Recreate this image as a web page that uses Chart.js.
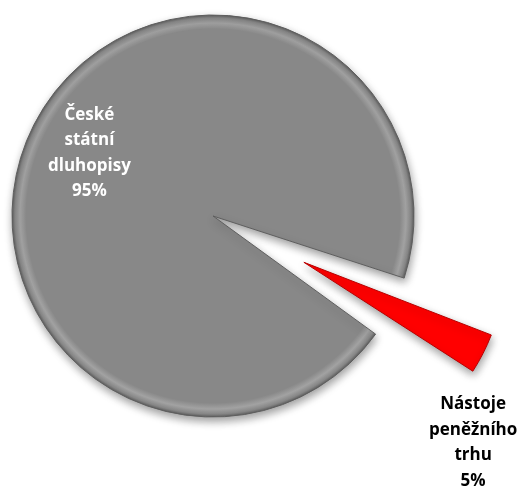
<!DOCTYPE html>
<html>
<head>
<meta charset="utf-8">
<script src="https://cdn.jsdelivr.net/npm/chart.js@4"></script>
<style>
  html, body { margin: 0; padding: 0; background: #fff; }
  #wrap { width: 531px; height: 490px; }
</style>
</head>
<body>
<div id="wrap"><canvas id="myChart" width="531" height="490"></canvas></div>
<script>
const labels = ["České\nstátní\ndluhopisy", "Nástoje\npeněžního\ntrhu"];
const shares = [95, 5];
const colors = ["#888888", "#ff0000"];
const rims = ["#5e5e5e", "#b80000"];
const highlights = ["#a2a2a2", "#ff4a4a"];
const textColors = ["#ffffff", "#000000"];

const ROTATION = 126;
const RADIUS = 201;
const PULL = 102; // how far the small slice is pulled out, px

// label placement: angle shift (deg) from slice middle, distance in radii
const labelPlace = [
  { turn: 0, dist: 0.69 },
  { turn: 19.8, dist: 1.23 },
];

const total = shares.reduce((a, b) => a + b, 0);
const pulls = shares.map((v, i) => (i === 1 ? PULL : 0));

// middle angle of each slice, radians, canvas orientation
const midAngle = (i) => {
  let before = 0;
  for (let k = 0; k < i; k++) before += shares[k];
  const start = (ROTATION - 90) * Math.PI / 180;
  return start + ((before + shares[i] / 2) / total) * Math.PI * 2;
};

// bevel-like fill: flat colour, lighter strip and darker rim at the arc
const bevelFill = (context) => {
  const i = context.dataIndex;
  const chart = context.chart;
  const area = chart.chartArea;
  if (!area) return colors[i];
  const a = midAngle(i);
  const cx = (area.left + area.right) / 2 + Math.cos(a) * pulls[i];
  const cy = (area.top + area.bottom) / 2 + Math.sin(a) * pulls[i];
  const g = chart.ctx.createRadialGradient(cx, cy, 0, cx, cy, RADIUS);
  g.addColorStop(0, colors[i]);
  g.addColorStop(0.93, colors[i]);
  g.addColorStop(0.96, highlights[i]);
  g.addColorStop(0.985, colors[i]);
  g.addColorStop(1, rims[i]);
  return g;
};

// ArcElement grows a pulled slice by offset/4 * (1 - sin(circumference));
// take that back off so every slice keeps the same radius
const keepRadius = {
  id: "keepRadius",
  afterDatasetUpdate(chart, args) {
    args.meta.data.forEach((arc) => {
      const off = (arc.options.offset || 0) / 4;
      const fix = 1 - Math.sin(Math.min(Math.PI, arc.circumference || 0));
      arc.outerRadius = RADIUS - off * fix;
    });
  },
};

const shadowPlugin = {
  id: "shadow",
  beforeDatasetsDraw(chart) {
    const c = chart.ctx;
    c.save();
    c.shadowColor = "rgba(0,0,0,0.38)";
    c.shadowBlur = 9;
    c.shadowOffsetX = 1;
    c.shadowOffsetY = 4;
  },
  afterDatasetsDraw(chart) {
    chart.ctx.restore();
  },
};

const sliceLabels = {
  id: "sliceLabels",
  afterDraw(chart) {
    const c = chart.ctx;
    const meta = chart.getDatasetMeta(0);
    meta.data.forEach((arc, i) => {
      const { x, y, startAngle, endAngle } = arc.getProps(
        ["x", "y", "startAngle", "endAngle"],
        true
      );
      const mid = (startAngle + endAngle) / 2;
      const off = (arc.options.offset || 0) / 4;
      const vx = x + Math.cos(mid) * off;
      const vy = y + Math.sin(mid) * off;
      const p = labelPlace[i];
      const ang = mid + (p.turn * Math.PI) / 180;
      const lx = vx + Math.cos(ang) * RADIUS * p.dist;
      const ly = vy + Math.sin(ang) * RADIUS * p.dist;
      const pct = Math.round((shares[i] / total) * 100) + "%";
      const lines = labels[i].split("\n").concat(pct);
      const lh = 25.5;
      c.save();
      c.font = "bold 17px 'Open Sans'";
      c.fillStyle = textColors[i];
      c.textAlign = "center";
      c.textBaseline = "middle";
      lines.forEach((t, k) => {
        c.fillText(t, lx, ly + (k - (lines.length - 1) / 2) * lh);
      });
      c.restore();
    });
  },
};

const ctx = document.getElementById("myChart");
new Chart(ctx, {
  type: "pie",
  data: {
    labels: labels.map((l) => l.replace(/\n/g, " ")),
    datasets: [
      {
        data: shares,
        backgroundColor: bevelFill,
        borderColor: rims,
        borderWidth: 1,
        // ArcElement shifts a slice by a quarter of its offset
        offset: pulls.map((p) => p * 4),
        clip: false,
      },
    ],
  },
  options: {
    responsive: false,
    animation: false,
    rotation: ROTATION,
    radius: RADIUS,
    layout: {
      padding: { left: 0, top: 0, right: 105, bottom: 58 },
    },
    plugins: {
      legend: { display: false },
      tooltip: { enabled: false },
    },
  },
  plugins: [keepRadius, shadowPlugin, sliceLabels],
});
</script>
</body>
</html>
